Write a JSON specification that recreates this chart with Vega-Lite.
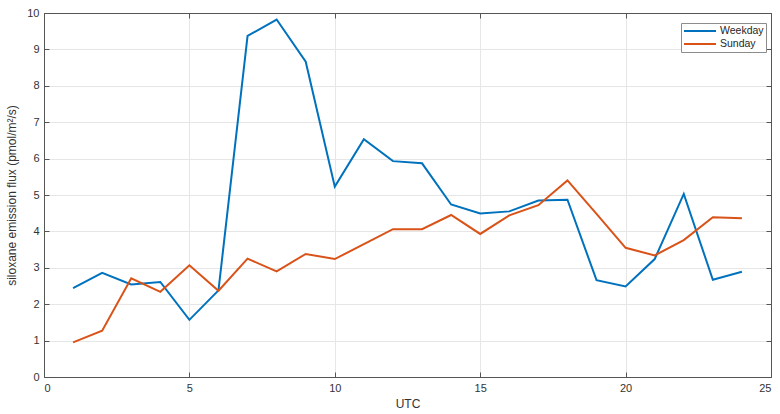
{
  "$schema": "https://vega.github.io/schema/vega-lite/v6.json",
  "width": 727,
  "height": 364,
  "autosize": {"type": "none"},
  "padding": {"left": 44, "top": 13, "right": 9, "bottom": 37},
  "background": "white",
  "config": {
    "font": "Liberation Sans",
    "view": {"stroke": null},
    "axis": {
      "labelFont": "Liberation Sans",
      "titleFont": "Liberation Sans",
      "labelFontSize": 11,
      "titleFontSize": 12,
      "labelColor": "#333333",
      "titleColor": "#333333",
      "titleFontWeight": "normal",
      "domainColor": "#555555",
      "tickColor": "#555555",
      "gridColor": "#e6e6e6",
      "gridWidth": 1,
      "labelOverlap": false
    }
  },
  "data": {
    "values": [
      {"hour": 1, "series": "Weekday", "flux": 2.44},
      {"hour": 2, "series": "Weekday", "flux": 2.86},
      {"hour": 3, "series": "Weekday", "flux": 2.54},
      {"hour": 4, "series": "Weekday", "flux": 2.61},
      {"hour": 5, "series": "Weekday", "flux": 1.57},
      {"hour": 6, "series": "Weekday", "flux": 2.38},
      {"hour": 7, "series": "Weekday", "flux": 9.37},
      {"hour": 8, "series": "Weekday", "flux": 9.82},
      {"hour": 9, "series": "Weekday", "flux": 8.66},
      {"hour": 10, "series": "Weekday", "flux": 5.23},
      {"hour": 11, "series": "Weekday", "flux": 6.53},
      {"hour": 12, "series": "Weekday", "flux": 5.93},
      {"hour": 13, "series": "Weekday", "flux": 5.87},
      {"hour": 14, "series": "Weekday", "flux": 4.74},
      {"hour": 15, "series": "Weekday", "flux": 4.49},
      {"hour": 16, "series": "Weekday", "flux": 4.55},
      {"hour": 17, "series": "Weekday", "flux": 4.85},
      {"hour": 18, "series": "Weekday", "flux": 4.87},
      {"hour": 19, "series": "Weekday", "flux": 2.66},
      {"hour": 20, "series": "Weekday", "flux": 2.49},
      {"hour": 21, "series": "Weekday", "flux": 3.24},
      {"hour": 22, "series": "Weekday", "flux": 5.03},
      {"hour": 23, "series": "Weekday", "flux": 2.67},
      {"hour": 24, "series": "Weekday", "flux": 2.89},
      {"hour": 1, "series": "Sunday", "flux": 0.95},
      {"hour": 2, "series": "Sunday", "flux": 1.27},
      {"hour": 3, "series": "Sunday", "flux": 2.71},
      {"hour": 4, "series": "Sunday", "flux": 2.34},
      {"hour": 5, "series": "Sunday", "flux": 3.07},
      {"hour": 6, "series": "Sunday", "flux": 2.37},
      {"hour": 7, "series": "Sunday", "flux": 3.25},
      {"hour": 8, "series": "Sunday", "flux": 2.9},
      {"hour": 9, "series": "Sunday", "flux": 3.38},
      {"hour": 10, "series": "Sunday", "flux": 3.24},
      {"hour": 11, "series": "Sunday", "flux": 3.65},
      {"hour": 12, "series": "Sunday", "flux": 4.06},
      {"hour": 13, "series": "Sunday", "flux": 4.06},
      {"hour": 14, "series": "Sunday", "flux": 4.45},
      {"hour": 15, "series": "Sunday", "flux": 3.93},
      {"hour": 16, "series": "Sunday", "flux": 4.44},
      {"hour": 17, "series": "Sunday", "flux": 4.72},
      {"hour": 18, "series": "Sunday", "flux": 5.4},
      {"hour": 19, "series": "Sunday", "flux": 4.48},
      {"hour": 20, "series": "Sunday", "flux": 3.55},
      {"hour": 21, "series": "Sunday", "flux": 3.34},
      {"hour": 22, "series": "Sunday", "flux": 3.76},
      {"hour": 23, "series": "Sunday", "flux": 4.39},
      {"hour": 24, "series": "Sunday", "flux": 4.36}
    ]
  },
  "layer": [
    {
      "mark": {"type": "line", "strokeWidth": 2},
      "encoding": {
        "x": {
          "field": "hour", "type": "quantitative",
          "scale": {"domain": [0, 25], "nice": false, "zero": false},
          "axis": {"title": "UTC", "values": [0, 5, 10, 15, 20, 25], "tickSize": -5, "labelPadding": 10, "titlePadding": 5, "grid": true}
        },
        "y": {
          "field": "flux", "type": "quantitative",
          "scale": {"domain": [0, 10], "nice": false},
          "axis": {"title": "siloxane emission flux (pmol/m²/s)", "values": [0,1,2,3,4,5,6,7,8,9,10], "tickSize": -5, "labelPadding": 10, "titlePadding": 8, "grid": true}
        },
        "color": {
          "field": "series", "type": "nominal",
          "scale": {"domain": ["Weekday", "Sunday"], "range": ["#0072BD", "#D95319"]},
          "legend": {
            "title": null,
            "orient": "none",
            "legendX": 637,
            "legendY": 10,
            "symbolType": "stroke",
            "symbolStrokeWidth": 2,
            "symbolSize": 1024,
            "clipHeight": 12,
            "labelFontSize": 10.5,
            "labelColor": "#262626",
            "labelFont": "Liberation Sans",
            "fillColor": "white",
            "strokeColor": "#8c8c8c",
            "padding": 2,
            "rowPadding": 1,
            "labelOffset": 3
          }
        }
      }
    },
    {
      "mark": {"type": "line", "opacity": 0},
      "encoding": {
        "x": {
          "field": "hour", "type": "quantitative",
          "scale": {"domain": [0, 25], "nice": false, "zero": false},
          "axis": {"orient": "top", "title": null, "labels": false, "values": [0, 5, 10, 15, 20, 25], "tickSize": -5, "grid": false}
        },
        "y": {
          "field": "flux", "type": "quantitative",
          "scale": {"domain": [0, 10], "nice": false},
          "axis": {"orient": "right", "title": null, "labels": false, "values": [0,1,2,3,4,5,6,7,8,9,10], "tickSize": -5, "grid": false}
        },
        "detail": {"field": "series"}
      }
    }
  ],
  "resolve": {"axis": {"x": "independent", "y": "independent"}}
}
